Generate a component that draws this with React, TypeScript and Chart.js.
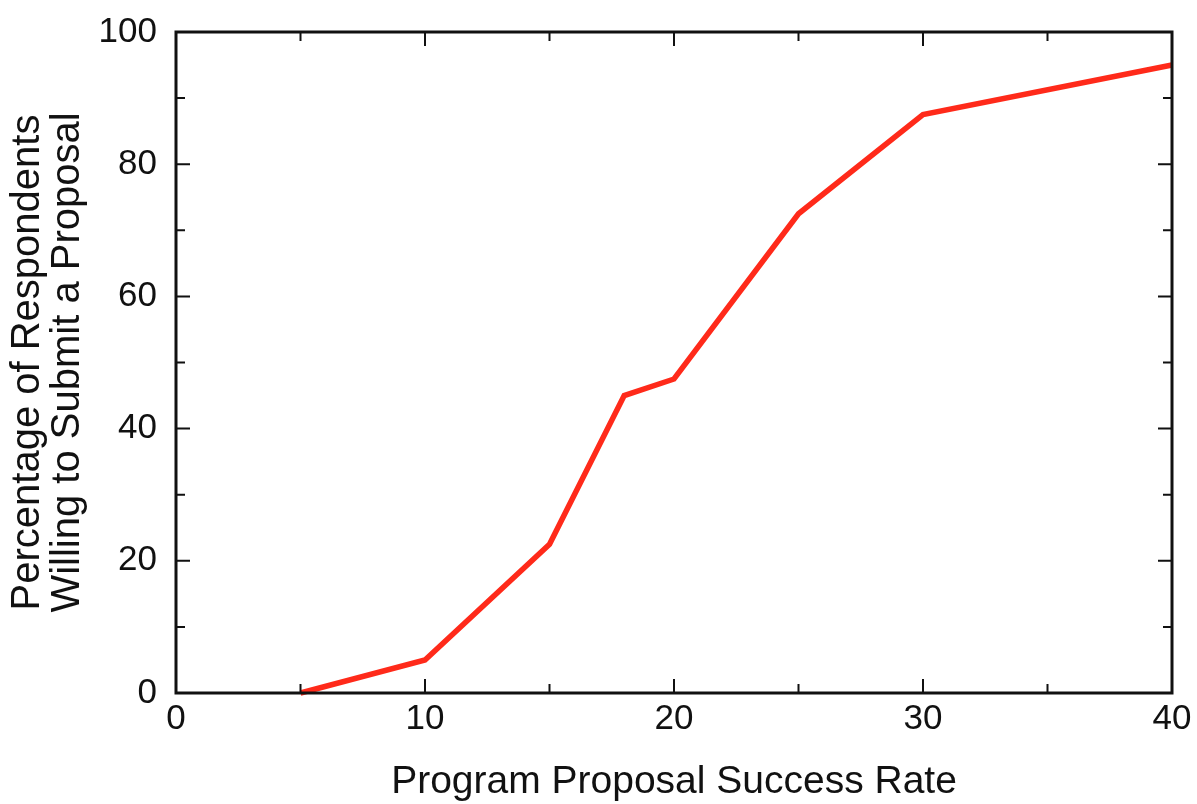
import React, { useEffect, useRef } from "react";
import { Chart, registerables } from "chart.js";

Chart.register(...registerables);

const successRate = [5, 10, 15, 18, 20, 25, 30, 40];
const willingPct = [0, 5, 22.5, 45, 47.5, 72.5, 87.5, 95];
const xMajorTicks = [0, 10, 20, 30, 40];
const xMinorTicks = [5, 15, 25, 35];
const yMajorTicks = [0, 20, 40, 60, 80, 100];
const yMinorTicks = [10, 30, 50, 70, 90];

const FONT = "'Liberation Sans', Arial, Helvetica, sans-serif";

const framePlugin = {
  id: "frame",
  afterDatasetsDraw(chart: any) {
    const { ctx, chartArea, scales } = chart;
    const { left, right, top, bottom } = chartArea;
    ctx.save();
    ctx.strokeStyle = "#111";
    ctx.lineWidth = 2;
    const major = 14;
    const minor = 9;
    ctx.beginPath();
    xMajorTicks.forEach((v) => {
      const px = scales.x.getPixelForValue(v);
      ctx.moveTo(px, bottom); ctx.lineTo(px, bottom - major);
      ctx.moveTo(px, top); ctx.lineTo(px, top + major);
    });
    xMinorTicks.forEach((v) => {
      const px = scales.x.getPixelForValue(v);
      ctx.moveTo(px, bottom); ctx.lineTo(px, bottom - minor);
      ctx.moveTo(px, top); ctx.lineTo(px, top + minor);
    });
    yMajorTicks.forEach((v) => {
      const py = scales.y.getPixelForValue(v);
      ctx.moveTo(left, py); ctx.lineTo(left + major, py);
      ctx.moveTo(right, py); ctx.lineTo(right - major, py);
    });
    yMinorTicks.forEach((v) => {
      const py = scales.y.getPixelForValue(v);
      ctx.moveTo(left, py); ctx.lineTo(left + minor, py);
      ctx.moveTo(right, py); ctx.lineTo(right - minor, py);
    });
    ctx.stroke();
    ctx.lineWidth = 3;
    ctx.strokeRect(left, top, right - left, bottom - top);
    ctx.restore();
  },
};

export default function App() {
  const ref = useRef<HTMLCanvasElement | null>(null);
  useEffect(() => {
    document.body.style.margin = "0";
    const chart = new Chart(ref.current as HTMLCanvasElement, {
      type: "scatter",
      data: {
        datasets: [
          {
            data: successRate.map((x, i) => ({ x, y: willingPct[i] })),
            showLine: true,
            borderColor: "#ff2a1a",
            borderWidth: 5.5,
            pointRadius: 0,
            tension: 0,
            clip: false as any,
          },
        ],
      },
      options: {
        animation: false,
        responsive: false,
        layout: { padding: { top: 32, right: 25, left: 0, bottom: 0 } },
        plugins: { legend: { display: false }, tooltip: { enabled: false } },
        scales: {
          x: {
            type: "linear",
            min: 0,
            max: 40,
            afterFit: (s: any) => {
              s.height = 111;
              s.paddingLeft = 0;
              s.paddingRight = 0;
            },
            afterBuildTicks: (s: any) => { s.ticks = xMajorTicks.map((v) => ({ value: v })); },
            grid: { display: false, drawTicks: false },
            border: { display: false },
            ticks: { color: "#111", font: { family: FONT, size: 35 }, padding: 5 },
            title: {
              display: true,
              text: "Program Proposal Success Rate",
              color: "#111",
              font: { family: FONT, size: 39, lineHeight: 1.1 },
              padding: { top: 10, bottom: 0 },
            },
          },
          y: {
            type: "linear",
            min: 0,
            max: 100,
            afterFit: (s: any) => {
              s.width = 176;
              s.paddingTop = 0;
              s.paddingBottom = 0;
            },
            afterBuildTicks: (s: any) => { s.ticks = yMajorTicks.map((v) => ({ value: v })); },
            grid: { display: false, drawTicks: false },
            border: { display: false },
            ticks: { color: "#111", font: { family: FONT, size: 35 }, padding: 19 },
            title: {
              display: true,
              text: ["Percentage of Respondents", "Willing to Submit a Proposal"],
              color: "#111",
              font: { family: FONT, size: 40, lineHeight: 1.0 },
              padding: { top: 8, bottom: 0 },
            },
          },
        },
      },
      plugins: [framePlugin],
    });
    return () => chart.destroy();
  }, []);
  return (
    <div style={{ width: 1197, height: 804 }}>
      <canvas ref={ref} width={1197} height={804} style={{ display: "block" }} />
    </div>
  );
}
